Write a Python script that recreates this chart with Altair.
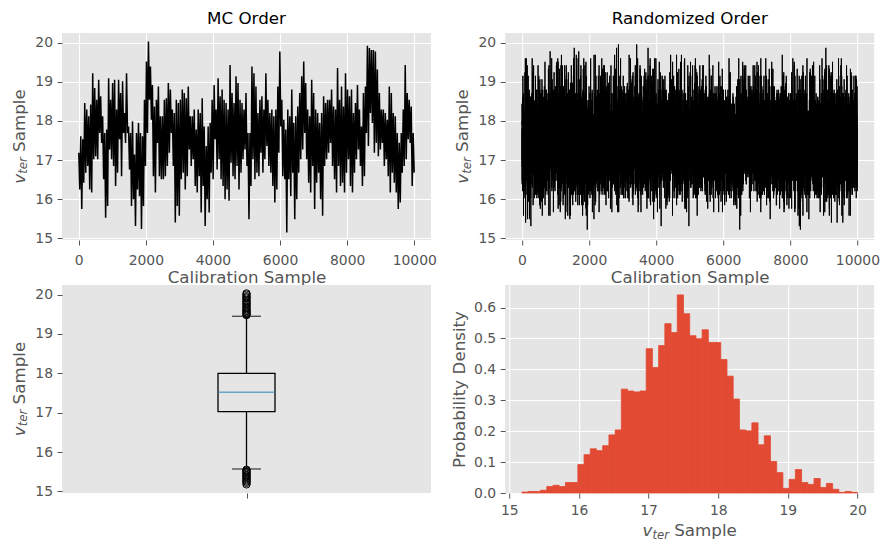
import math

import altair as alt
import numpy as np
import pandas as pd

# ---------------------------------------------------------------------------
# Data
# ---------------------------------------------------------------------------
# MC chain of v_ter, stored as upper / lower excursion per short stretch of
# the chain (10000 calibration samples in total).
trace_high = [
    17.19, 17.61, 17.53, 18.46, 18.29, 18.12, 18.42, 19.22, 18.84, 18.54,
    19.05, 18.63, 18.12, 17.69, 17.78, 19.09, 18.54, 18.97, 19.05, 18.29,
    19.05, 18.71, 19.01, 18.20, 19.22, 17.86, 17.69, 17.99, 17.14, 17.69,
    17.95, 17.69, 17.61, 18.54, 19.52, 20.03, 19.39, 18.92, 18.37, 18.54,
    18.88, 18.12,
    18.12, 18.54, 18.58, 18.97, 18.80, 18.29, 18.20, 18.54, 18.46, 18.54,
    18.80, 18.71, 18.58, 18.88, 18.12, 18.12, 18.29, 17.78, 18.29, 18.20,
    18.58, 17.86, 17.36, 17.86, 17.95, 18.54, 18.92, 18.29, 19.09, 18.63,
    18.80, 18.54, 18.46, 18.29, 19.43, 18.71, 18.46, 19.14, 18.97, 18.54,
    18.46, 18.29,
    18.71, 17.69, 17.69, 19.39, 19.22, 18.88, 18.20, 18.54, 18.63, 18.29,
    19.22, 18.54, 18.20, 18.29, 18.12, 18.29, 18.88, 19.77, 18.54, 18.03,
    17.78, 18.29, 18.12, 18.80, 17.95, 18.12, 18.37, 18.71, 19.14, 19.52,
    18.97, 18.29, 18.12, 19.05, 18.71, 18.29, 18.20, 17.95, 18.20, 18.63,
    18.46, 18.54,
    18.54, 18.80, 18.37, 18.29, 19.35, 18.54, 18.88, 18.37, 19.22, 18.80,
    18.63, 18.80, 18.20, 18.46, 18.92, 18.29, 17.86, 18.71, 18.88, 19.92,
    19.86, 19.81, 19.81, 19.77, 19.31, 18.71, 18.29, 18.29, 18.20, 18.03,
    18.88, 18.71, 18.20, 18.12, 17.69, 17.44, 17.69, 18.29, 19.43, 18.71,
    18.54, 18.37, 17.69,
]
trace_low = [
    16.25, 15.75, 16.42, 16.68, 16.85, 16.25, 16.17, 17.02, 17.10, 17.02,
    17.69, 17.44, 16.51, 15.53, 15.83, 17.27, 17.02, 16.85, 16.34, 16.68,
    17.53, 16.59, 17.69, 17.44, 17.69, 16.76, 15.83, 16.00, 15.32, 16.25,
    16.08, 15.24, 15.83, 16.85, 17.69, 18.54, 18.03, 16.59, 16.17, 17.44,
    16.59, 16.51,
    16.51, 16.59, 16.85, 17.19, 17.69, 16.85, 15.41, 15.83, 15.58, 16.51,
    16.68, 16.25, 16.59, 17.27, 16.85, 17.02, 16.34, 16.17, 16.59, 15.66,
    16.34, 15.32, 16.00, 15.66, 16.68, 16.51, 17.53, 16.76, 17.02, 16.51,
    16.34, 16.00, 16.25, 15.96, 16.93, 16.59, 16.51, 16.85, 16.25, 16.68,
    17.02, 17.27,
    16.85, 15.49, 16.34, 17.02, 16.51, 16.68, 16.59, 17.19, 16.68, 17.02,
    17.36, 16.85, 16.68, 16.34, 15.92, 16.25, 17.19, 17.86, 16.59, 16.51,
    15.15, 16.51, 16.08, 16.68, 15.49, 16.00, 16.68, 17.02, 17.27, 17.69,
    17.02, 16.42, 16.17, 16.85, 15.75, 16.42, 16.68, 16.00, 15.58, 16.85,
    17.02, 17.19,
    17.44, 16.85, 16.51, 16.17, 16.85, 16.34, 16.42, 16.17, 16.68, 17.02,
    16.34, 16.17, 16.68, 17.02, 17.27, 16.85, 16.34, 16.59, 17.69, 17.36,
    18.20, 17.95, 17.19, 17.44, 17.10, 17.27, 17.44, 16.85, 17.02, 16.59,
    16.17, 16.68, 16.42, 16.17, 15.75, 15.92, 16.68, 16.85, 17.02, 17.53,
    17.44, 16.34, 16.68,
]
n_samples = 10000

# Probability density of v_ter, 54 equal-width bins between hist_lo and hist_hi
hist_density = [
    0.003, 0.005, 0.005, 0.009, 0.021, 0.025, 0.021, 0.034, 0.034, 0.092,
    0.124, 0.143, 0.137, 0.153, 0.188, 0.204, 0.336, 0.330, 0.327, 0.330,
    0.467, 0.406, 0.477, 0.548, 0.519, 0.641, 0.580, 0.509, 0.499, 0.528,
    0.487, 0.487, 0.432, 0.378, 0.304, 0.204, 0.201, 0.227, 0.156, 0.185,
    0.102, 0.066, 0.015, 0.044, 0.076, 0.034, 0.028, 0.047, 0.018, 0.031,
    0.012, 0.002, 0.005, 0.002,
]
hist_lo, hist_hi = 15.18, 20.0

# Box-plot summary of the same samples
box_lower, box_q1, box_median, box_q3, box_upper = 15.57, 17.03, 17.52, 18.00, 19.45
fliers = [
    19.48, 19.50, 19.52, 19.55, 19.58, 19.60, 19.63, 19.66, 19.70, 19.74,
    19.77, 19.80, 19.83, 19.86, 19.90, 19.93, 19.96, 20.00, 20.03,
    15.55, 15.53, 15.50, 15.48, 15.45, 15.42, 15.40, 15.37, 15.34, 15.31,
    15.28, 15.25, 15.22, 15.18,
]

trace_ticks = [0, 2000, 4000, 6000, 8000, 10000]
v_ticks = [15, 16, 17, 18, 19, 20]
density_ticks = [0.0, 0.1, 0.2, 0.3, 0.4, 0.5, 0.6]

# ---------------------------------------------------------------------------
# Style
# ---------------------------------------------------------------------------
FONT = "DejaVu Sans"
INK = "#555555"
PANEL_BG = "#E5E5E5"
RED = "#E24A33"
BLUE = "#348ABD"
W, H_TOP, H_BOT = 369, 207, 208
ROW_GAP = 45
V_DOMAIN = [14.96, 20.245]
TICK_FS = 13.9
LABEL_FS = 16.7
SUB_FS = 11.7

# ---------------------------------------------------------------------------
# Tables
# ---------------------------------------------------------------------------
chain = np.column_stack([trace_high, trace_low]).ravel()
mc_df = pd.DataFrame({"sample": np.linspace(0, n_samples - 1, chain.size), "v": chain})

edges = np.linspace(hist_lo, hist_hi, len(hist_density) + 1)
bin_width = edges[1] - edges[0]
hist_df = pd.DataFrame({"start": edges[:-1], "end": edges[1:], "density": hist_density})

# Randomized order: the pooled samples (bin centres, repeated by bin count)
# visited in a scrambled order given by the cubic permutation modulo a prime.
centers = (edges[:-1] + edges[1:]) / 2
counts = np.rint(np.asarray(hist_density) * bin_width * n_samples).astype(int)
pool = np.repeat(centers, counts)
n_pool = pool.size


def is_prime(k):
    return k > 1 and all(k % d for d in range(2, int(math.isqrt(k)) + 1))


p = n_pool
while not (is_prime(p) and (p - 1) % 3 != 0):
    p += 1
order = [r for r in (pow(7919 * i + 13, 3, p) for i in range(p)) if r < n_pool]
rnd_df = pd.DataFrame({"sample": np.linspace(0, n_samples - 1, n_pool), "v": pool[order]})

box_df = pd.DataFrame([{"pos": 1, "lower": box_lower, "q1": box_q1, "median": box_median,
                        "q3": box_q3, "upper": box_upper}])
flier_df = pd.DataFrame({"pos": 1, "v": fliers})


def axis(values, title=None, fmt=None, grid=True, labels=True, **kw):
    opts = dict(values=values, title=title, domain=False, grid=grid, gridColor="white",
                gridWidth=1.1, ticks=True, tickColor=INK, tickSize=5, tickWidth=1,
                labels=labels, labelColor=INK, labelFont=FONT, labelFontSize=TICK_FS,
                labelPadding=4.5, titleColor=INK, titleFont=FONT,
                titleFontSize=LABEL_FS, titleFontWeight="normal")
    if fmt:
        opts["format"] = fmt
    opts.update(kw)
    return alt.Axis(**opts)


def vter_label(orient, w, h):
    """'v_ter Sample' with an italic v and subscript 'ter', as text marks."""
    v_w = 0.592 * LABEL_FS
    ter_w = 1.418 * SUB_FS
    gap = 0.318 * LABEL_FS
    total = v_w + ter_w + gap + 3.75 * LABEL_FS
    pieces = [("v", LABEL_FS, "italic", 0.0, 0.0),
              ("ter", SUB_FS, "italic", v_w, 2.8),
              ("Sample", LABEL_FS, "normal", v_w + ter_w + gap, 0.0)]
    layers = []
    for text, size, style, advance, shift in pieces:
        if orient == "left":
            x, y, angle = -37.5 + shift, h / 2 + total / 2 - advance, 270
        else:
            x, y, angle = w / 2 - total / 2 + advance, h + 43 + shift, 0
        layers.append(
            alt.Chart(pd.DataFrame({"t": [text]}))
            .mark_text(align="left", baseline="alphabetic", angle=angle, font=FONT,
                       fontSize=size, fontStyle=style, color=INK)
            .encode(x=alt.value(x), y=alt.value(y), text="t:N")
        )
    return layers


def panel_title(text):
    return alt.TitleParams(text, font=FONT, fontSize=LABEL_FS, fontWeight="normal",
                           color="black", anchor="middle", baseline="alphabetic", offset=-8)


def trace_panel(df, title, stroke_width):
    line = alt.Chart(df).mark_line(color="black", strokeWidth=stroke_width).encode(
        x=alt.X("sample:Q", scale=alt.Scale(domain=[-500, 10500], nice=False, zero=False),
                axis=axis(trace_ticks, title="Calibration Sample", fmt="d",
                          labelPadding=8, titlePadding=2.8)),
        y=alt.Y("v:Q", scale=alt.Scale(domain=V_DOMAIN, nice=False, zero=False),
                axis=axis(v_ticks)),
    )
    return alt.layer(line, *vter_label("left", W, H_TOP)).properties(
        width=W, height=H_TOP, title=panel_title(title))


mc_panel = trace_panel(mc_df, "MC Order", 1.5)
rnd_panel = trace_panel(rnd_df, "Randomized Order", 1.0)

# box plot
bx = alt.X("pos:Q", scale=alt.Scale(domain=[0.5, 1.5], nice=False, zero=False),
           axis=axis([1], grid=False, labels=False))
by_scale = alt.Scale(domain=V_DOMAIN, nice=False, zero=False)
by_axis = axis(v_ticks, grid=False)
box_base = alt.Chart(box_df)
box = box_base.mark_bar(size=57, fillOpacity=0, stroke="black", strokeWidth=1.3).encode(
    x=bx, y=alt.Y("q1:Q", scale=by_scale, axis=by_axis), y2="q3:Q")
whisk_lo = box_base.mark_rule(color="black", strokeWidth=1.3).encode(
    x=bx, y=alt.Y("lower:Q", scale=by_scale, axis=by_axis), y2="q1:Q")
whisk_hi = box_base.mark_rule(color="black", strokeWidth=1.3).encode(
    x=bx, y=alt.Y("q3:Q", scale=by_scale, axis=by_axis), y2="upper:Q")
cap_lo = box_base.mark_tick(orient="horizontal", size=29, thickness=1.3, color="black").encode(
    x=bx, y=alt.Y("lower:Q", scale=by_scale, axis=by_axis))
cap_hi = box_base.mark_tick(orient="horizontal", size=29, thickness=1.3, color="black").encode(
    x=bx, y=alt.Y("upper:Q", scale=by_scale, axis=by_axis))
median = box_base.mark_tick(orient="horizontal", size=57, thickness=1.3, color=BLUE).encode(
    x=bx, y=alt.Y("median:Q", scale=by_scale, axis=by_axis))
outliers = alt.Chart(flier_df).mark_point(shape="circle", size=55, filled=False, color="black",
                                          strokeWidth=1, opacity=1).encode(
    x=bx, y=alt.Y("v:Q", scale=by_scale, axis=by_axis))
box_panel = alt.layer(box, whisk_lo, whisk_hi, cap_lo, cap_hi, median, outliers,
                      *vter_label("left", W, H_BOT)).properties(width=W, height=H_BOT)

# histogram
hist = alt.Chart(hist_df).mark_bar(color=RED, stroke=RED, strokeWidth=0.8).encode(
    x=alt.X("start:Q", scale=alt.Scale(domain=[14.94, 20.24], nice=False, zero=False),
            axis=axis(v_ticks, labelPadding=5)),
    x2="end:Q",
    y=alt.Y("density:Q", scale=alt.Scale(domain=[0, 0.673], nice=False),
            axis=axis(density_ticks, title="Probability Density", fmt=".1f", titlePadding=5.4)),
    y2=alt.datum(0),
)
hist_panel = alt.layer(hist, *vter_label("bottom", W, H_BOT)).properties(width=W, height=H_BOT)

# two columns; rows are laid out by plot area so the lower panels sit
# directly under the trace panels' axis titles
left_col = alt.vconcat(mc_panel, box_panel, spacing=ROW_GAP, bounds="flush")
right_col = alt.vconcat(rnd_panel, hist_panel, spacing=ROW_GAP, bounds="flush")

chart = (
    alt.hconcat(left_col, right_col, spacing=14.2)
    .properties(padding={"left": 11, "top": 11, "right": 5, "bottom": 5})
    .configure(font=FONT)
    .configure_view(fill=PANEL_BG, stroke="transparent", strokeWidth=0)
)

chart.save("out.html", embed_options={"renderer": "svg", "actions": False})
